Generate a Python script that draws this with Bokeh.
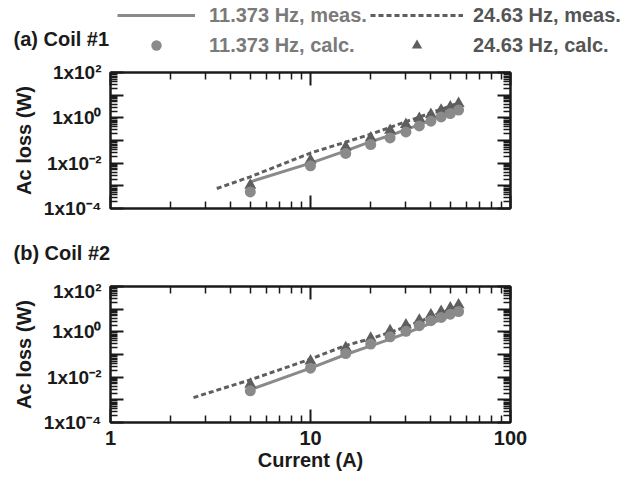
from bokeh.plotting import figure
from bokeh.layouts import column
from bokeh.models import (Range1d, FixedTicker, LogAxis, CustomJSTickFormatter,
                          Legend, LegendItem, Label)
from bokeh.embed import file_html
from bokeh.resources import INLINE

# ---- data: ac loss (W) versus transport current (A) ----
current_calc = [5, 10, 15, 20, 25, 30, 35, 40, 45, 50, 55]

# Coil #1
c1_meas_11_I = [5, 10, 15, 20, 25, 30, 35, 40, 45, 50, 55]
c1_meas_11 = [1.5e-3, 0.010, 0.035, 0.089, 0.166, 0.30, 0.50, 0.79, 1.2, 1.66, 2.3]
c1_meas_24_I = [3.4, 5, 10, 15, 20, 25, 30, 35, 40, 45, 50, 55]
c1_meas_24 = [7.6e-4, 2.5e-3, 0.028, 0.085, 0.19, 0.38, 0.68, 1.07, 1.66, 2.4, 3.3, 4.5]
c1_calc_11 = [5.4e-4, 7.6e-3, 0.027, 0.066, 0.13, 0.24, 0.44, 0.71, 1.1, 1.55, 2.2]
c1_calc_24 = [1.07e-3, 0.0135, 0.052, 0.13, 0.28, 0.51, 0.93, 1.4, 2.2, 3.0, 4.3]

# Coil #2
c2_meas_11_I = [5, 10, 15, 20, 25, 30, 35, 40, 45, 50, 55]
c2_meas_11 = [2.8e-3, 0.025, 0.10, 0.24, 0.48, 0.85, 1.48, 2.4, 3.5, 5.0, 6.9]
c2_meas_24_I = [2.6, 5, 10, 15, 20, 25, 30, 35, 40, 45, 50, 55]
c2_meas_24 = [1.26e-3, 7.6e-3, 0.063, 0.25, 0.50, 0.95, 1.66, 2.8, 4.6, 6.9, 9.8, 13.5]
c2_calc_11 = [2.5e-3, 0.025, 0.11, 0.29, 0.60, 1.05, 1.86, 3.1, 4.3, 6.0, 7.9]
c2_calc_24 = [4.9e-3, 0.052, 0.20, 0.52, 1.12, 2.0, 3.3, 5.6, 7.9, 11.2, 15.5]

series_labels = ["11.373 Hz, meas.", "11.373 Hz, calc.", "24.63 Hz, meas.", "24.63 Hz, calc."]
panel_titles = ["(a) Coil #1", "(b) Coil #2"]

# ---- axes ticks ----
x_ticks = [1, 10, 100]
x_minor = [2, 3, 4, 5, 6, 7, 8, 9, 20, 30, 40, 50, 60, 70, 80, 90]
x_label_exps = [0, 1, 2]
x_labels = ["1", "10", "100"]
y_ticks = [1e-4, 1e-3, 1e-2, 1e-1, 1e0, 1e1, 1e2]
y_minor = [m * 10.0 ** e for e in range(-4, 2) for m in range(2, 10)]
y_label_exps = [2, 0, -2, -4]
y_labels = ["1x10\u00b2", "1x10\u2070", "1x10\u207b\u00b2", "1x10\u207b\u2074"]

LIGHT = "#8a8a8a"
DARK = "#5e5e5e"
INK = "#1a1a1a"
FONT = "Liberation Sans"
W = 637

# style shared by data renderers and the legend samples
LINE_11 = dict(line_color=LIGHT, line_width=3)
LINE_24 = dict(line_color=DARK, line_width=3, line_dash="5 3")
MARK_11 = dict(marker="circle", size=11, fill_color=LIGHT, line_color=None)
MARK_24 = dict(marker="triangle", size=12, fill_color=DARK, line_color=None)


def make_formatter(exps, texts):
    return CustomJSTickFormatter(args=dict(exps=exps, texts=texts), code="""
        const e = Math.round(Math.log10(tick));
        const i = exps.indexOf(e);
        return i >= 0 ? texts[i] : "";
    """)


def blank():
    return CustomJSTickFormatter(code="return '';")


def style_axis(ax, labelled):
    ax.axis_line_color = INK
    ax.axis_line_width = 2
    ax.major_tick_line_color = INK
    ax.major_tick_line_width = 2
    ax.minor_tick_line_color = INK
    ax.minor_tick_line_width = 1.5
    ax.major_tick_in = 13
    ax.major_tick_out = 0
    ax.minor_tick_in = 7
    ax.minor_tick_out = 0
    ax.major_label_text_font = FONT
    ax.major_label_text_font_style = "bold"
    ax.major_label_text_color = INK
    if not labelled:
        ax.major_label_text_font_size = "0px"
        ax.major_label_standoff = 0


def make_header(height):
    # a bare canvas whose frame covers the whole strip (not aligned with the panels)
    h = figure(width=W, height=height, x_range=Range1d(0, 1), y_range=Range1d(0, 1),
               output_backend="svg", toolbar_location=None,
               x_axis_location=None, y_axis_location=None,
               min_border=0, outline_line_color=None)
    h.frame_align = False
    h.xgrid.visible = False
    h.ygrid.visible = False
    return h


def panel_label(text, x, y):
    return Label(x=x, y=y, x_units="screen", y_units="screen", text=text,
                 text_font=FONT, text_font_size="20px", text_font_style="bold",
                 text_color=INK, text_baseline="middle")


def make_panel(height, top, bottom, meas11_I, meas11, meas24_I, meas24,
               calc11, calc24, show_x_labels):
    p = figure(width=W, height=height, x_axis_type="log", y_axis_type="log",
               x_range=Range1d(1, 100), y_range=Range1d(1e-4, 1e2),
               output_backend="svg", toolbar_location=None,
               min_border_left=110, min_border_right=127,
               min_border_top=top, min_border_bottom=bottom)
    p.xgrid.visible = False
    p.ygrid.visible = False
    p.outline_line_color = INK
    p.outline_line_width = 2

    xa = p.xaxis[0]
    xa.ticker = FixedTicker(ticks=x_ticks, minor_ticks=x_minor)
    style_axis(xa, show_x_labels)
    if show_x_labels:
        xa.formatter = make_formatter(x_label_exps, x_labels)
        xa.major_label_text_font_size = "20px"
        xa.major_label_standoff = 8
        xa.axis_label = "Current (A)"
        xa.axis_label_text_font = FONT
        xa.axis_label_text_font_size = "20px"
        xa.axis_label_text_font_style = "bold"
        xa.axis_label_text_color = INK
        xa.axis_label_standoff = 1
    else:
        xa.formatter = blank()

    ya = p.yaxis[0]
    ya.ticker = FixedTicker(ticks=y_ticks, minor_ticks=y_minor)
    ya.formatter = make_formatter(y_label_exps, y_labels)
    style_axis(ya, True)
    ya.major_label_text_font_size = "19px"
    ya.major_label_standoff = 9
    ya.axis_label = "Ac loss (W)"
    ya.axis_label_text_font = FONT
    ya.axis_label_text_font_size = "20px"
    ya.axis_label_text_font_style = "bold"
    ya.axis_label_text_color = INK
    ya.axis_label_standoff = 6

    top_ax = LogAxis(ticker=FixedTicker(ticks=x_ticks, minor_ticks=x_minor), formatter=blank())
    style_axis(top_ax, False)
    p.add_layout(top_ax, "above")
    right_ax = LogAxis(ticker=FixedTicker(ticks=y_ticks, minor_ticks=y_minor), formatter=blank())
    style_axis(right_ax, False)
    p.add_layout(right_ax, "right")

    p.line(meas11_I, meas11, **LINE_11)
    p.line(meas24_I, meas24, **LINE_24)
    p.scatter(current_calc, calc24, **MARK_24)
    p.scatter(current_calc, calc11, **MARK_11)
    return p


# header with the legend and the title of panel (a); the legend samples come
# from hidden copies of the coil #1 series that carry the same styles
head_a = make_header(60)
s_m11 = head_a.line(c1_meas_11_I, c1_meas_11, visible=False, **LINE_11)
s_c11 = head_a.scatter(current_calc, c1_calc_11, visible=False, **MARK_11)
s_m24 = head_a.line(c1_meas_24_I, c1_meas_24, visible=False, **LINE_24)
s_c24 = head_a.scatter(current_calc, c1_calc_24, visible=False, **MARK_24)


def make_legend(items, x, glyph_w, standoff, color):
    return Legend(items=items, location=(x, 2), orientation="vertical",
                  glyph_width=glyph_w, glyph_height=26, label_height=20,
                  spacing=4, padding=0, margin=0, label_standoff=standoff,
                  border_line_color=None, background_fill_alpha=0,
                  inactive_fill_alpha=0, click_policy="none",
                  label_text_font=FONT, label_text_font_size="20px",
                  label_text_font_style="bold", label_text_color=color)


head_a.add_layout(make_legend([LegendItem(label=series_labels[0], renderers=[s_m11]),
                               LegendItem(label=series_labels[1], renderers=[s_c11])],
                              117, 78, 14, "#7a7a7a"))
head_a.add_layout(make_legend([LegendItem(label=series_labels[2], renderers=[s_m24]),
                               LegendItem(label=series_labels[3], renderers=[s_c24])],
                              370, 93, 10, "#555555"))
head_a.add_layout(panel_label(panel_titles[0], 13, 22))

p1 = make_panel(180, 12, 32, c1_meas_11_I, c1_meas_11, c1_meas_24_I, c1_meas_24,
                c1_calc_11, c1_calc_24, False)

head_b = make_header(40)
head_b.add_layout(panel_label(panel_titles[1], 13, 28))

p2 = make_panel(197, 6, 55, c2_meas_11_I, c2_meas_11, c2_meas_24_I, c2_meas_24,
                c2_calc_11, c2_calc_24, True)

layout = column(head_a, p1, head_b, p2, spacing=0)
open("out.html", "w").write(file_html(layout, INLINE))
